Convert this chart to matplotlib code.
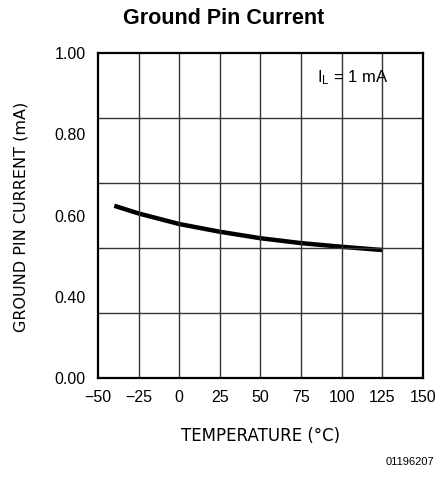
import matplotlib
matplotlib.use('Agg')
import matplotlib.pyplot as plt

plt.rcParams['font.family'] = ['Liberation Sans', 'DejaVu Sans']

# data (mA vs degC)
temp = [-40, -25, 0, 25, 50, 75, 100, 125]
ground_current = [0.624, 0.605, 0.579, 0.560, 0.544, 0.532, 0.523, 0.515]

x_ticks = [-50, -25, 0, 25, 50, 75, 100, 125, 150]
y_ticks = [0.2, 0.4, 0.6, 0.8, 1.0]
y_tick_labels = ['0.00', '0.40', '0.60', '0.80', '1.00']
y_grid = [0.36, 0.52, 0.68, 0.84]

fig = plt.figure(figsize=(4.39, 4.79), dpi=100)
ax = fig.add_axes([98/439, 101/479, 325/439, 325/479])

ax.plot(temp, ground_current, color='black', lw=3.2, solid_capstyle='butt',
        solid_joinstyle='round')

ax.set_xlim(-50, 150)
ax.set_ylim(0.2, 1.0)
ax.set_xticks(x_ticks)
ax.set_xticklabels([str(t).replace('-', '\u2212') for t in x_ticks])
ax.set_yticks(y_ticks)
ax.set_yticklabels(y_tick_labels)
ax.tick_params(length=0, labelsize=11.5, pad=9)

for t in x_ticks[1:-1]:
    ax.axvline(t, color='#333333', lw=1.0)
for g in y_grid:
    ax.axhline(g, color='#333333', lw=1.0)
for s in ax.spines.values():
    s.set_linewidth(1.6)

ax.text(0.674, 0.923, r'$\mathregular{I_L}$ = 1 mA', transform=ax.transAxes,
        fontsize=12, ha='left', va='center')

fig.text(0.047, 0.547, 'GROUND PIN CURRENT (mA)', rotation=90,
         ha='center', va='center', fontsize=11.5, family='DejaVu Sans')
fig.text(0.593, 0.09, 'TEMPERATURE (\u00b0C)', ha='center', va='center',
         fontsize=12, family='DejaVu Sans')
fig.text(224/439, 0.962, 'Ground Pin Current', ha='center', va='center',
         fontsize=15.5, fontweight='bold')
fig.text(0.99, 0.035, '01196207', ha='right', va='center', fontsize=8)

fig.savefig('out.png', dpi=100)
